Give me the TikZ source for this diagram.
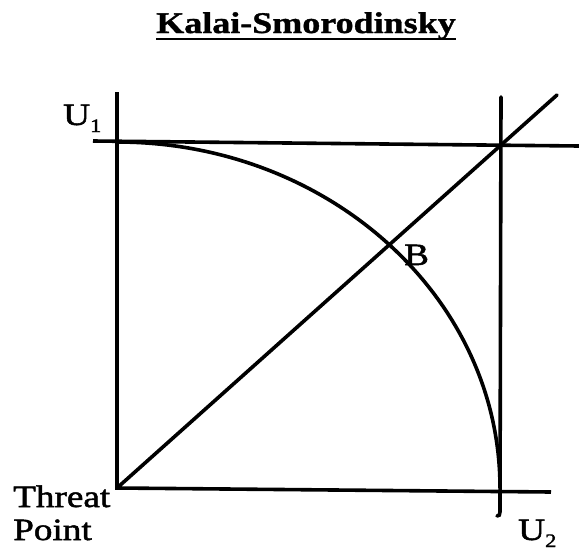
\documentclass[tikz,border=0pt]{standalone}
\usepackage{fontspec}
\setmainfont[FakeStretch=1.2]{Liberation Serif}
\newfontfamily\heavy[FakeStretch=1.2,FakeBold=1.6]{Liberation Serif}
\newfontfamily\heavybf[FakeStretch=1.2,FakeBold=1.2]{Liberation Serif Bold}
\begin{document}
\begin{tikzpicture}[x=1pt,y=-1pt,
  axis/.style={line width=3.6pt},
  lbl/.style={inner sep=0pt,anchor=base west,font=\fontsize{31}{33}\heavy}]
\useasboundingbox (0,0) rectangle (579,552);
\coordinate (O) at (117,488);
\coordinate (ytop) at (117,92);
\coordinate (tl) at (93,141);
\coordinate (tr) at (579,146);
\coordinate (br) at (551,492);
\coordinate (rtop) at (501,97);
\coordinate (rbot) at (500,512);
\coordinate (rend) at (497,516);
\coordinate (dend) at (557,95);
\coordinate (cs) at (117,142);
\coordinate (ce) at (500,488);
% title
\node[inner sep=0pt,anchor=base,font=\fontsize{30}{36}\heavybf] (title) at (306,33) {Kalai-Smorodinsky};
\draw[line width=2.4pt] ([yshift=-6pt]title.base west) -- ([yshift=-6pt]title.base east);
% axes and lines
\draw[axis] (ytop) -- (O) -- (br);
\draw[axis] (tl) -- (tr);
\draw[axis,line cap=round] (rtop) -- (rbot) .. controls (500,515) and (499,516) .. (rend);
\draw[axis,line cap=round] (O) -- (dend);
\draw[axis] (cs) .. controls (328.5,142) and (500,297) .. (ce);
% labels
\node[lbl] (u1) at (63,125) {U\raisebox{-7pt}{\fontsize{19}{19}\heavy 1}};
\node[lbl] (b) at (404,265) {B};
\node[lbl] (threat) at (13,507) {Threat};
\node[lbl] (point) at (13,540) {Point};
\node[lbl] (u2) at (518,540) {U\raisebox{-7pt}{\fontsize{19}{19}\heavy 2}};
\end{tikzpicture}
\end{document}
